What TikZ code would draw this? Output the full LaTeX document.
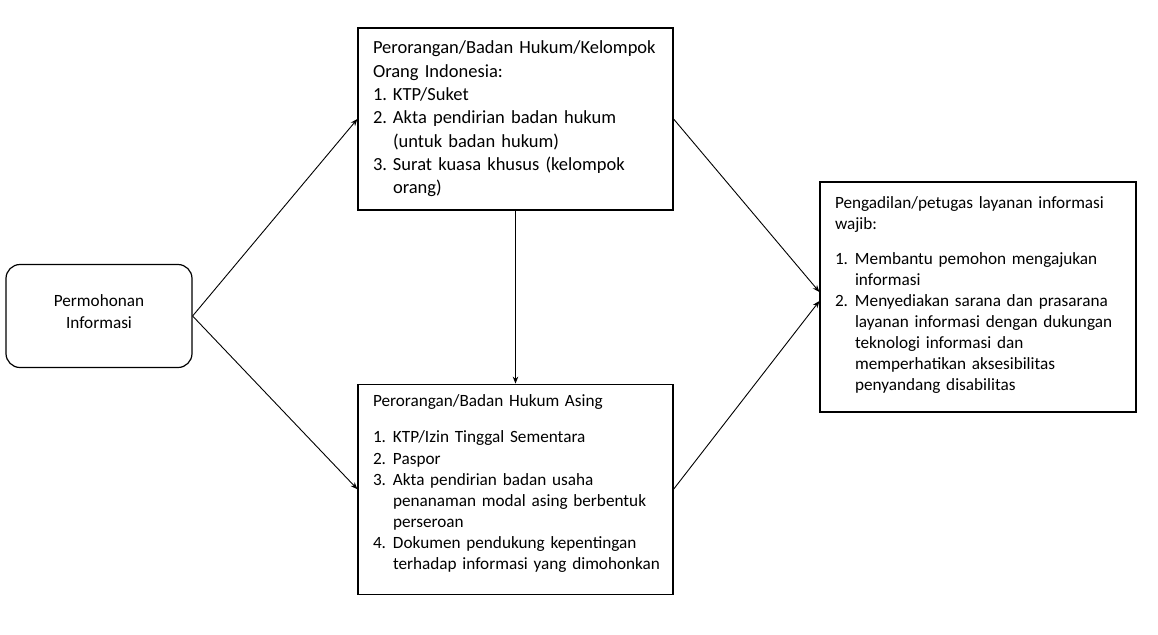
\documentclass[tikz,border=0pt]{standalone}
\usepackage{fontspec}
\setmainfont{Carlito}
\usepackage{tikz}
\usetikzlibrary{
    shapes,
    positioning,
    calc,
    arrows.meta
}
\setlength{\parindent}{0pt}
\newlength{\lebarnomor}
\setlength{\lebarnomor}{20pt}
\newcommand{\butir}[2]{\par\hangindent=\lebarnomor\hangafter=1\makebox[\lebarnomor][l]{#1}#2\par}
\newcommand{\ruangbawah}[1]{\par\vspace{#1}\nointerlineskip\null}
\tikzset{
  basic/.style = {
      draw,
      line width=1.2pt,
      rectangle,
      fill=white,
      inner xsep=15pt,
      text width=285pt,
      align=left
  },
  round/.style = {
    basic,
    rounded corners=14pt,
    text width=,
    align=center,
    minimum width=186pt,
    minimum height=103pt,
    font=\fontsize{17.2}{21.5}\selectfont
  },
  besar/.style = {
      basic,
      font=\fontsize{18.5}{23.3}\selectfont
  },
  kecil/.style = {
      basic,
      font=\fontsize{17.2}{21.1}\selectfont
  },
  edge/.style = {
      line width=0.9pt,
      -{Stealth[length=7pt,width=5.5pt]}
  }
}
\begin{document}
\begin{tikzpicture}[x=1pt, y=-1pt]
    \useasboundingbox (0,0) rectangle (1158,634);
    \node[round] (Permohonan) at (99,316) {Permohonan\\Informasi\\[-13pt]};
    \node[besar, minimum height=182pt] (WNI) at (515.5,119) {%
        \mbox{Perorangan/Badan Hukum/Kelompok}\\Orang Indonesia:
        \butir{1.}{KTP/Suket}
        \butir{2.}{Akta pendirian badan hukum\newline(untuk badan hukum)}
        \butir{3.}{Surat kuasa khusus (kelompok\newline orang)}};
    \node[kecil, minimum height=210pt, below=173pt of WNI] (WNA) {%
        Perorangan/Badan Hukum Asing\par\vspace{15pt}
        \butir{1.}{KTP/Izin Tinggal Sementara}
        \butir{2.}{Paspor}
        \butir{3.}{Akta pendirian badan usaha\newline penanaman modal asing berbentuk\newline perseroan}
        \butir{4.}{Dokumen pendukung kepentingan\newline\mbox{terhadap informasi yang dimohonkan}}\ruangbawah{11pt}};
    \node[kecil, minimum height=230pt, text width=286pt] (Pengadilan) at (978,297) {%
        Pengadilan/petugas layanan informasi\\wajib:\par\vspace{14pt}
        \butir{1.}{Membantu pemohon mengajukan\newline informasi}
        \butir{2.}{Menyediakan sarana dan prasarana\newline layanan informasi dengan dukungan\newline teknologi informasi dan\newline memperhatikan aksesibilitas\newline penyandang disabilitas}\ruangbawah{4pt}};
    % Edges
    \draw[edge] (Permohonan.east) -- (WNI.west);
    \draw[edge] (Permohonan.east) -- (WNA.west);
    \draw[edge] (WNI.south) -- (WNA.north);
    \draw[edge] (WNI.east) -- ([yshift=5pt]Pengadilan.west);
    \draw[edge] (WNA.east) -- ([yshift=-4pt]Pengadilan.west);
\end{tikzpicture}
\end{document}
